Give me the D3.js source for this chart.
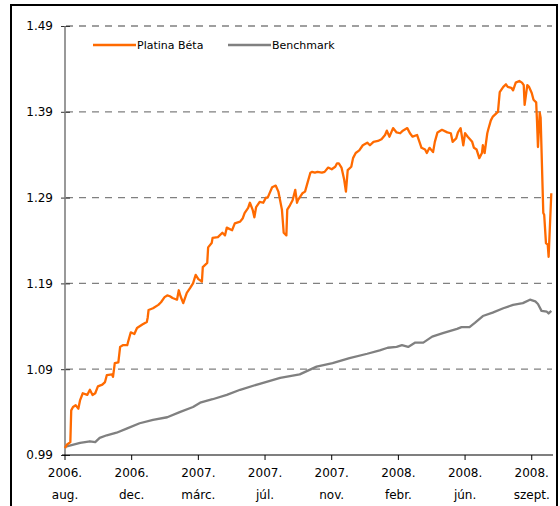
<!DOCTYPE html>
<html>
<head>
<meta charset="utf-8">
<script src="https://cdn.jsdelivr.net/npm/d3@7"></script>
<style>
  body { margin: 0; background: #fff; font-family: "DejaVu Sans", Verdana, sans-serif; }
  svg text { fill: #000; }
</style>
</head>
<body>
<script>
// trading-day index of each reading, and the value
var betaDays = [0,2,6,7,9,12,15,17,20,25,28,31,34,37,42,45,47,53,54,56,60,62,65,70,71,74,78,81,87,92,93,94,99,105,108,112,115,118,121,126,128,130,133,137,141,144,147,150,154,155,160,161,165,166,172,177,180,182,188,191,197,200,202,206,208,211,213,215,219,223,226,228,233,237,240,244,246,249,250,253,256,259,261,262,267,270,273,276,278,281,284,289,292,296,300,304,306,308,311,314,316,318,322,324,327,331,335,340,343,347,352,356,360,362,365,369,373,377,380,385,388,391,396,399,401,405,407,410,414,416,419,424,430,434,436,440,442,445,448,450,453,458,460,463,466,469,470,472,475,476,479,481,486,487,489,493,496,498,502,504,507,511,514,516,517,520,522,525,527,530,531,532,534,535,538,539,541,543,544,547];
var betaValues = [0.998,1.002,1.005,1.042,1.046,1.048,1.044,1.054,1.062,1.060,1.066,1.060,1.062,1.070,1.072,1.075,1.083,1.084,1.081,1.097,1.098,1.116,1.118,1.118,1.122,1.133,1.131,1.138,1.142,1.145,1.150,1.159,1.161,1.165,1.168,1.174,1.176,1.175,1.173,1.171,1.182,1.175,1.167,1.179,1.185,1.190,1.200,1.195,1.192,1.209,1.214,1.232,1.237,1.243,1.244,1.249,1.246,1.255,1.252,1.260,1.262,1.266,1.272,1.278,1.284,1.276,1.267,1.279,1.285,1.284,1.290,1.290,1.302,1.304,1.297,1.276,1.249,1.246,1.276,1.281,1.287,1.299,1.284,1.287,1.295,1.297,1.308,1.319,1.320,1.319,1.320,1.319,1.320,1.325,1.323,1.326,1.330,1.330,1.325,1.311,1.297,1.322,1.326,1.336,1.342,1.345,1.351,1.354,1.351,1.355,1.356,1.358,1.363,1.368,1.361,1.371,1.366,1.365,1.368,1.371,1.365,1.361,1.363,1.354,1.348,1.346,1.342,1.348,1.343,1.355,1.366,1.369,1.366,1.365,1.355,1.359,1.366,1.371,1.351,1.365,1.361,1.355,1.348,1.346,1.336,1.342,1.351,1.342,1.365,1.369,1.380,1.384,1.389,1.390,1.413,1.419,1.422,1.419,1.418,1.415,1.424,1.426,1.424,1.421,1.398,1.421,1.419,1.412,1.404,1.401,1.377,1.349,1.389,1.383,1.272,1.270,1.237,1.235,1.221,1.295];

var benchDays = [0,2,17,28,34,39,47,58,70,84,99,115,129,144,152,166,182,197,219,242,264,283,301,320,340,354,363,373,379,386,394,403,413,425,441,446,455,461,470,481,493,504,515,523,529,532,536,542,544,547];
var benchValues = [1.000,1.000,1.004,1.006,1.005,1.010,1.013,1.016,1.021,1.027,1.031,1.034,1.040,1.046,1.051,1.055,1.060,1.066,1.073,1.080,1.084,1.093,1.097,1.103,1.108,1.112,1.115,1.116,1.118,1.116,1.121,1.121,1.128,1.132,1.137,1.139,1.139,1.144,1.152,1.156,1.161,1.165,1.167,1.171,1.169,1.166,1.158,1.157,1.155,1.158];

var yTicks = [0.99, 1.09, 1.19, 1.29, 1.39, 1.49];
var xTickDays = [0, 75, 150, 225, 300, 375, 450, 525];
var xTickYears = ["2006.", "2006.", "2007.", "2007.", "2007.", "2008.", "2008.", "2008."];
var xTickMonths = ["aug.", "dec.", "márc.", "júl.", "nov.", "febr.", "jún.", "szept."];
var seriesNames = ["Platina Béta", "Benchmark"];
var seriesColors = ["#ff6a00", "#808080"];

var width = 560, height = 506;
var svg = d3.select("body").append("svg")
    .attr("width", width)
    .attr("height", height);

// outer frame (bottom edge runs off the picture)
svg.append("rect")
    .attr("x", 11).attr("y", 5)
    .attr("width", 546).attr("height", 520)
    .attr("fill", "none")
    .attr("stroke", "#000")
    .attr("stroke-width", 2);

var x = d3.scaleLinear().domain([0, 547]).range([65, 551.3]);
var y = d3.scaleLinear().domain([0.99, 1.49]).range([455, 26]);

// dashed grid
svg.selectAll(".grid")
    .data(yTicks.slice(1))
    .enter().append("line")
    .attr("x1", 66).attr("x2", 552)
    .attr("y1", function (d) { return y(d); })
    .attr("y2", function (d) { return y(d); })
    .attr("stroke", "#808080")
    .attr("stroke-width", 1.3)
    .attr("stroke-dasharray", "7,6");

// y axis
var yAxis = d3.axisLeft(y)
    .tickValues(yTicks)
    .tickFormat(d3.format(".2f"))
    .tickSize(0)
    .tickPadding(12);
var gy = svg.append("g").attr("transform", "translate(65,0)").call(yAxis);
gy.select(".domain").remove();
gy.selectAll("text")
    .style("font-family", "DejaVu Sans, Verdana, sans-serif")
    .style("font-size", "12px")
    .attr("fill", "#000");
gy.selectAll(".tick").append("line")
    .attr("x1", -4).attr("x2", 5)
    .attr("stroke", "#333").attr("stroke-width", 1);
svg.append("line")
    .attr("x1", 65).attr("x2", 65)
    .attr("y1", 26).attr("y2", 455)
    .attr("stroke", "#777").attr("stroke-width", 1.5);

// x axis
svg.append("line")
    .attr("x1", 62).attr("x2", 553)
    .attr("y1", 455).attr("y2", 455)
    .attr("stroke", "#000").attr("stroke-width", 1.2);

var xt = svg.selectAll(".xtick")
    .data(xTickDays)
    .enter().append("g")
    .attr("transform", function (d) { return "translate(" + x(d) + ",455)"; });
xt.append("line")
    .attr("y1", 0).attr("y2", 5)
    .attr("stroke", "#000").attr("stroke-width", 1);
xt.append("text")
    .attr("y", 22)
    .attr("text-anchor", "middle")
    .style("font-size", "12px")
    .text(function (d, i) { return xTickYears[i]; });
xt.append("text")
    .attr("y", 44)
    .attr("text-anchor", "middle")
    .style("font-size", "12px")
    .text(function (d, i) { return xTickMonths[i]; });

// lines
var line = d3.line()
    .x(function (d) { return x(d[0]); })
    .y(function (d) { return y(d[1]); });

svg.append("path")
    .datum(d3.zip(benchDays, benchValues))
    .attr("d", line)
    .attr("fill", "none")
    .attr("stroke", seriesColors[1])
    .attr("stroke-width", 2.3)
    .attr("stroke-linejoin", "round");

svg.append("path")
    .datum(d3.zip(betaDays, betaValues))
    .attr("d", line)
    .attr("fill", "none")
    .attr("stroke", seriesColors[0])
    .attr("stroke-width", 2.3)
    .attr("stroke-linejoin", "round");

// legend
var legendX = [93, 228];
var lg = svg.selectAll(".legend")
    .data(seriesNames)
    .enter().append("g")
    .attr("transform", function (d, i) { return "translate(" + legendX[i] + ",45)"; });
lg.append("line")
    .attr("x1", 0).attr("x2", 43)
    .attr("stroke", function (d, i) { return seriesColors[i]; })
    .attr("stroke-width", 2.5);
lg.append("text")
    .attr("x", 44).attr("y", 4)
    .style("font-size", "11px")
    .text(function (d) { return d; });
</script>
</body>
</html>
